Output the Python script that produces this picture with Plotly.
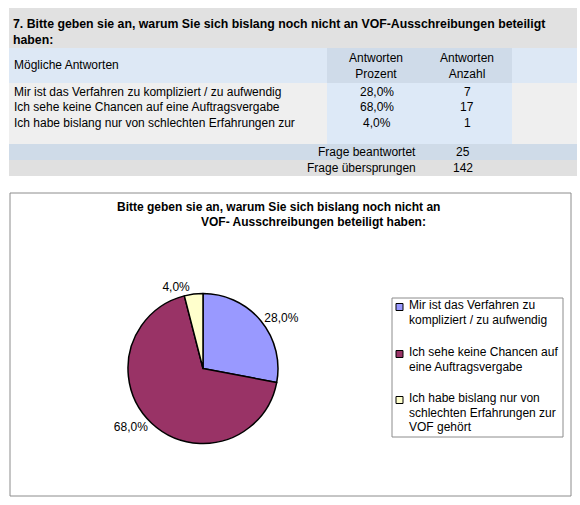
import plotly.graph_objects as go

W, H = 580, 505

question = "7. Bitte geben sie an, warum Sie sich bislang noch nicht an VOF-Ausschreibungen beteiligt<br>haben:"
chart_title = ["Bitte geben sie an, warum Sie sich bislang noch nicht an",
               "VOF- Ausschreibungen beteiligt haben:"]
answers_table = ["Mir ist das Verfahren zu kompliziert / zu aufwendig",
                 "Ich sehe keine Chancen auf eine Auftragsvergabe",
                 "Ich habe bislang nur von schlechten Erfahrungen zur"]
answers_legend = ["Mir ist das Verfahren zu<br>kompliziert / zu aufwendig",
                  "Ich sehe keine Chancen auf<br>eine Auftragsvergabe",
                  "Ich habe bislang nur von<br>schlechten Erfahrungen zur<br>VOF gehört"]
percent = [28.0, 68.0, 4.0]
counts = [7, 17, 1]
answered = 25
skipped = 142
colors = ["#9999ff", "#993366", "#ffffcc"]

FONT = "Arial, Liberation Sans, sans-serif"


def fx(x):
    return x / W


def fy(y):
    return 1 - y / H


def rect(x0, y0, x1, y1, fill, line=None, layer="below"):
    return dict(type="rect", xref="paper", yref="paper",
                x0=fx(x0), x1=fx(x1), y0=fy(y1), y1=fy(y0),
                fillcolor=fill, layer=layer,
                line=dict(width=1 if line else 0, color=line or fill))


def text(x, y, s, anchor="left", bold=False, size=12):
    return dict(xref="paper", yref="paper", x=fx(x), y=fy(y), text=f"<b>{s}</b>" if bold else s,
                showarrow=False, xanchor=anchor, yanchor="middle",
                font=dict(family=FONT, size=size, color="#000000"))


fig = go.Figure(go.Pie(
    labels=[a.replace("<br>", " ") for a in answers_legend],
    values=counts,
    sort=False,
    direction="clockwise",
    rotation=0,
    marker=dict(colors=colors, line=dict(color="#000000", width=1.5)),
    textposition="outside",
    texttemplate="%{percent:.1%}",
    textfont=dict(family=FONT, size=12, color="#000000"),
    domain=dict(x=[fx(128), fx(278)], y=[fy(444), fy(293)]),
    hoverinfo="label+value+percent",
    showlegend=False,
))

shapes = [
    # question band
    rect(9, 8, 577, 48, "#e1e1e1"),
    # header row
    rect(9, 48, 577, 83, "#dde8f5"),
    rect(327, 48, 512, 83, "#cfdbe9"),
    # data rows
    rect(9, 83, 327, 144, "#efefef"),
    rect(327, 83, 512, 144, "#dde9f7"),
    rect(512, 83, 577, 144, "#efefef"),
    # summary rows
    rect(9, 144, 577, 160, "#cfdbe8"),
    rect(9, 160, 577, 176, "#e0e0e0"),
    # chart frame
    rect(10, 193, 571, 496, "#ffffff", line="#8c8c8c"),
    # legend frame
    rect(392, 298, 563, 437, "#ffffff", line="#8c8c8c"),
]

annotations = [
    dict(xref="paper", yref="paper", x=fx(11), y=fy(15), text=f"<b>{question}</b>",
         showarrow=False, xanchor="left", yanchor="top", align="left",
         font=dict(family=FONT, size=12.3, color="#000000")),
    text(12, 65, "Mögliche Antworten"),
    dict(xref="paper", yref="paper", x=fx(376), y=fy(66), text="Antworten<br>Prozent",
         showarrow=False, xanchor="center", yanchor="middle", align="center",
         font=dict(family=FONT, size=12, color="#000000")),
    dict(xref="paper", yref="paper", x=fx(467), y=fy(66), text="Antworten<br>Anzahl",
         showarrow=False, xanchor="center", yanchor="middle", align="center",
         font=dict(family=FONT, size=12, color="#000000")),
]
for i, (a, p, c) in enumerate(zip(answers_table, percent, counts)):
    yy = 92 + i * 15.5
    annotations.append(text(12, yy, a))
    annotations.append(text(377, yy, f"{p:.1f}%".replace(".", ","), anchor="center"))
    annotations.append(text(467, yy, str(c), anchor="center"))
annotations.append(text(418, 152, "Frage beantwortet", anchor="right"))
annotations.append(text(463, 152, str(answered), anchor="center"))
annotations.append(text(418, 168, "Frage übersprungen", anchor="right"))
annotations.append(text(463, 168, str(skipped), anchor="center"))
annotations.append(text(278, 207, chart_title[0], anchor="center", bold=True, size=12))
annotations.append(text(313, 222, chart_title[1], anchor="center", bold=True, size=12))

# legend drawn by hand so the swatches sit on the first line of each entry
item_top = [305, 352, 398]
for col, label, y0 in zip(colors, answers_legend, item_top):
    shapes.append(rect(396, y0 - 1.5, 403, y0 + 5.5, col, line="#000000", layer="above"))
    for j, line in enumerate(label.split("<br>")):
        annotations.append(text(407, y0 + j * 14.5, line))

fig.update_layout(
    width=W, height=H,
    margin=dict(l=0, r=0, t=0, b=0),
    paper_bgcolor="#ffffff",
    separators=",.",
    shapes=shapes,
    annotations=annotations,
    showlegend=False,
)

fig.write_html("out.html", config={"displayModeBar": False},
               post_script="document.body.style.margin='0';")
